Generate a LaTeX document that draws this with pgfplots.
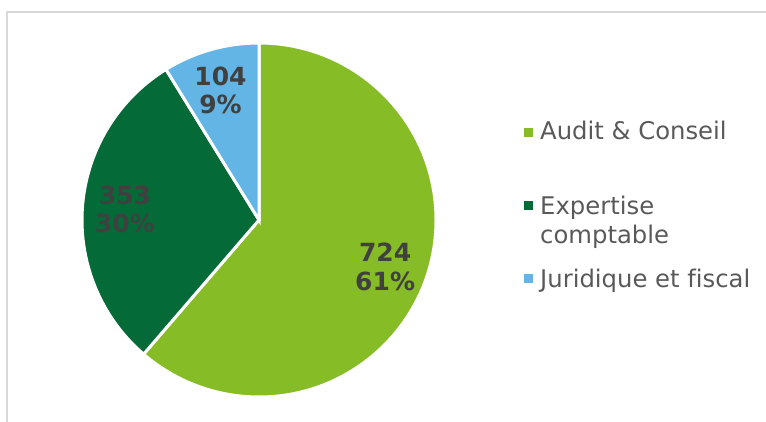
\documentclass[border=0pt]{standalone}
\usepackage{pgfplots}
\pgfplotsset{compat=1.18}
\usepackage{pgfplotstable}
\usepackage{fontspec}
\setmainfont{DejaVu Sans}[Ligatures=NoCommon]

\definecolor{cAudit}{HTML}{86BC25}
\definecolor{cExp}{HTML}{046A38}
\definecolor{cJur}{HTML}{62B5E5}
\definecolor{lbl}{HTML}{404040}
\definecolor{legtext}{HTML}{595959}
\definecolor{framegray}{HTML}{D9D9D9}

% clockwise from 12 o'clock
\pgfplotstableread{
value pct
724   61
353   30
104   9
}\piedata

\begin{document}
\begin{tikzpicture}[x=1pt,y=1pt]
\useasboundingbox (0,0) rectangle (766,422);
\draw[framegray, line width=1.5pt] (7,0) -- (7,410) -- (766,410);

\pgfplotstablegetelem{0}{value}\of\piedata \let\va\pgfplotsretval
\pgfplotstablegetelem{1}{value}\of\piedata \let\vb\pgfplotsretval
\pgfplotstablegetelem{2}{value}\of\piedata \let\vc\pgfplotsretval
\pgfplotstablegetelem{0}{pct}\of\piedata \let\pa\pgfplotsretval
\pgfplotstablegetelem{1}{pct}\of\piedata \let\pb\pgfplotsretval
\pgfplotstablegetelem{2}{pct}\of\piedata \let\pc\pgfplotsretval
\pgfmathsetmacro\tot{\va+\vb+\vc}
\pgfmathsetmacro\aA{90-360*(\va/\tot)}
\pgfmathsetmacro\aB{\aA-360*(\vb/\tot)}
\pgfmathsetmacro\mA{(90+\aA)/2}
\pgfmathsetmacro\mB{(\aA+\aB)/2}
\pgfmathsetmacro\mC{(\aB-270)/2}

\begin{axis}[
    width=354pt, height=354pt,
    scale only axis,
    hide axis,
    clip=false,
    xmin=-1, xmax=1, ymin=-1, ymax=1,
    at={(259pt,202pt)}, anchor=center,
]
\addplot[draw=none] coordinates {(0,0)};
\fill[cAudit, draw=white, line width=3pt] (axis cs:0,0) -- (axis cs:0,1)
    arc[start angle=90, end angle=\aA, radius=177pt] -- cycle;
\fill[cExp, draw=white, line width=3pt] (axis cs:0,0) -- (axis cs:{cos(\aA)},{sin(\aA)})
    arc[start angle=\aA, end angle=\aB, radius=177pt] -- cycle;
\fill[cJur, draw=white, line width=3pt] (axis cs:0,0) -- (axis cs:{cos(\aB)},{sin(\aB)})
    arc[start angle=\aB, end angle=-270, radius=177pt] -- cycle;
\tikzset{plabel/.style={text=lbl, align=center, font=\fontsize{25}{28.3}\selectfont\bfseries}}
\node[plabel] at (axis cs:{0.76*cos(\mA)},{0.76*sin(\mA)}) {\va\\\pa\%};
\node[plabel] at (axis cs:{0.76*cos(\mB)},{0.76*sin(\mB)}) {\vb\\\pb\%};
\node[plabel] at (axis cs:{0.76*cos(\mC)-0.01},{0.76*sin(\mC)}) {\vc\\\pc\%};
\end{axis}

% legend
\tikzset{ltext/.style={text=legtext, anchor=base west, inner sep=0pt,
    font=\fontsize{24.3}{28.5}\selectfont, align=left}}
\fill[cAudit] (524,285) rectangle ++(9,9);
\node[ltext] at (540,282) {Audit \& Conseil};
\fill[cExp] (524,211.5) rectangle ++(9,9);
\node[ltext] at (540,207) {Expertise};
\node[ltext] at (540,178.5) {comptable};
\fill[cJur] (524,138.5) rectangle ++(9,9);
\node[ltext] at (540,134.5) {Juridique et fiscal};
\end{tikzpicture}
\end{document}
